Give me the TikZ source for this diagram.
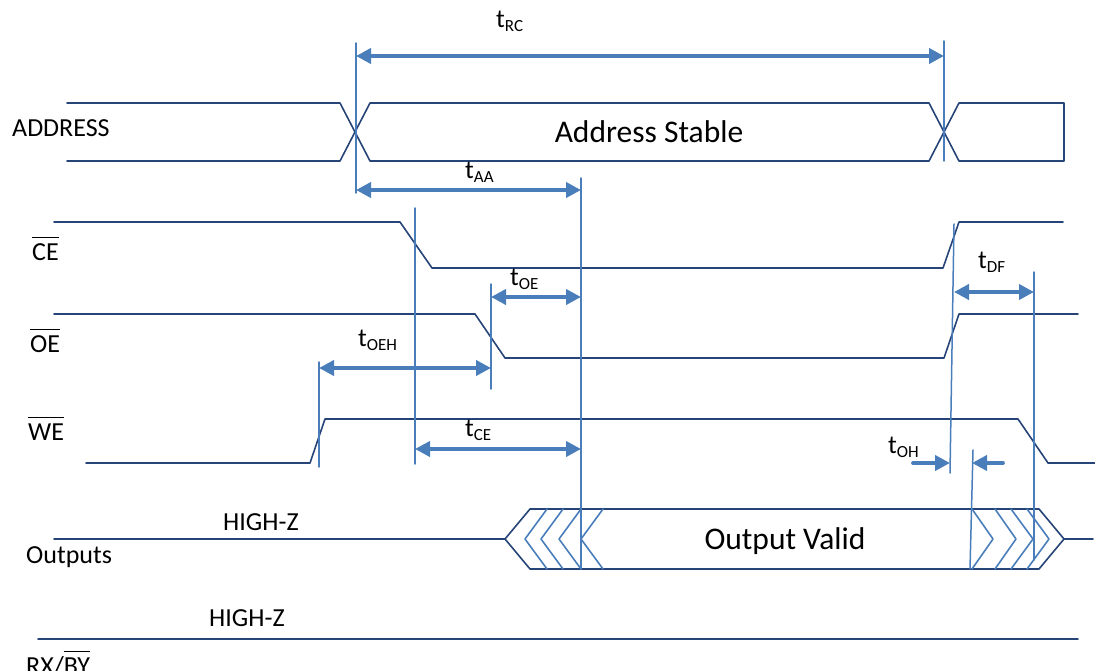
\documentclass[tikz,border=0pt]{standalone}
\usepackage{fontspec}
\setmainfont{Carlito}
\usetikzlibrary{arrows.meta}

\definecolor{sigblue}{RGB}{38,68,120}
\definecolor{markblue}{RGB}{74,126,187}

\newcommand{\tsub}[1]{t\raisebox{-4pt}{\fontsize{17}{17}\selectfont #1}}
\newcommand{\ovl}[1]{\leavevmode\vbox{\hrule height 1.3pt\kern 5pt\hbox{#1}}}

\begin{document}
\begin{tikzpicture}[line cap=round,line join=round,>={Triangle[length=15pt,width=15pt]},x=1pt,y=-1pt,
  sig/.style={color=sigblue,line width=1.6pt},
  chev/.style={color=markblue,line width=1.6pt},
  guide/.style={color=markblue,line width=1.5pt},
  dim/.style={color=markblue,line width=3.8pt},
  lab/.style={anchor=base west,inner sep=0pt,font=\fontsize{26}{26}\selectfont},
  big/.style={anchor=base,inner sep=0pt,font=\fontsize{31.5}{31.5}\selectfont}]

\useasboundingbox (0,0) rectangle (1095,671);

% signal names
\node[lab] (addr) at (12,137) {ADDRESS};
\node[lab] (ce) at (32,260) {\ovl{CE}};
\node[lab] (oe) at (30,352) {\ovl{OE}};
\node[lab] (we) at (28,440) {\ovl{WE}};
\node[lab] (outs) at (26,563) {Outputs};
\node[lab] (rxby) at (26,674) {RX/\ovl{BY}};
\node[lab] (hiz1) at (223,530) {HIGH-Z};
\node[lab] (hiz2) at (209,626) {HIGH-Z};

% waveforms
\draw[sig] (67,103) -- (340,103) -- (370,161) -- (929,161) -- (959,103) -- (1064,103)
  -- (1064,161) -- (959,161) -- (929,103) -- (370,103) -- (340,161) -- (67,161);
\node[big] (stable) at (649,143) {Address Stable};

\draw[sig] (54,222) -- (400,222) -- (432,268) -- (943,268) -- (959,222) -- (1063,222);
\draw[sig] (54,314) -- (475,314) -- (505,358) -- (944,358) -- (959,314) -- (1078,314);
\draw[sig] (86,463) -- (310,463) -- (325,419) -- (1018,419) -- (1048,463) -- (1095,463);

\draw[sig] (54,539) -- (505,539) -- (530,509) -- (1039,509) -- (1064,539) -- (1039,569)
  -- (530,569) -- (505,539);
\draw[sig] (1064,539) -- (1093,539);
\foreach \a/\b in {547/525,563/541,581/559,603/581}
  \draw[chev] (\a,509) -- (\b,539) -- (\a,569);
\foreach \a/\b in {972/993,995/1016,1011/1033,1027/1049}
  \draw[chev] (\a,509) -- (\b,539) -- (\a,569);
\node[big] (valid) at (785,549) {Output Valid};

\draw[sig] (38,639) -- (1078,639);

% guide lines
\draw[guide] (356,43) -- (356,193);
\draw[guide] (944,41) -- (944,161);
\draw[guide] (581,178) -- (581,569);
\draw[guide] (415,208) -- (415,464);
\draw[guide] (491,284) -- (491,389);
\draw[guide] (319,362) -- (319,467);
\draw[guide] (954,224) -- (950,473);
\draw[guide] (973,450) -- (970,569);
\draw[guide] (1034,272) -- (1034,560);

% timing arrows
\coordinate (rcL) at (356,56);
\coordinate (rcR) at (944,56);
\coordinate (aaL) at (356,190);
\coordinate (aaR) at (581,190);
\coordinate (oeL) at (491,297);
\coordinate (oeR) at (581,297);
\coordinate (oehL) at (319,368);
\coordinate (oehR) at (491,368);
\coordinate (ceL) at (415,449);
\coordinate (ceR) at (581,449);
\coordinate (dfL) at (954,292);
\coordinate (dfR) at (1034,292);
\coordinate (ohA) at (913,463);
\coordinate (ohB) at (950,463);
\coordinate (ohC) at (1003,463);
\coordinate (ohD) at (972,463);

\draw[dim,<->] (rcL) -- (rcR);
\draw[dim,<->] (aaL) -- (aaR);
\draw[dim,<->] (oeL) -- (oeR);
\draw[dim,<->] (oehL) -- (oehR);
\draw[dim,<->] (ceL) -- (ceR);
\draw[dim,<->] (dfL) -- (dfR);
\draw[dim,->] (ohA) -- (ohB);
\draw[dim,->] (ohC) -- (ohD);

\node[lab] (tRC) at (496,28) {\tsub{RC}};
\node[lab] (tAA) at (465,179) {\tsub{AA}};
\node[lab] (tOE) at (510,285) {\tsub{OE}};
\node[lab] (tOEH) at (358,346) {\tsub{OEH}};
\node[lab] (tCE) at (465,436) {\tsub{CE}};
\node[lab] (tDF) at (978,269) {\tsub{DF}};
\node[lab] (tOH) at (888,453) {\tsub{OH}};
\end{tikzpicture}
\end{document}
